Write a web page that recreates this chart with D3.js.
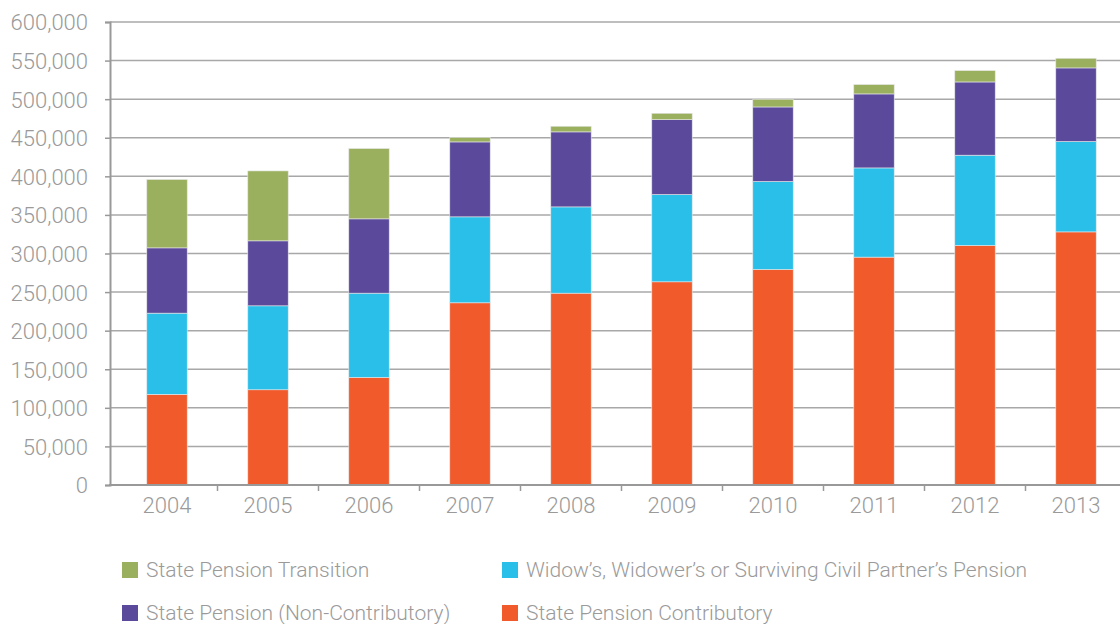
<!DOCTYPE html>
<html lang="en">
<head>
<meta charset="UTF-8">
<script src="https://d3js.org/d3.v7.min.js"></script>
<title>Pensions</title>
<style>
  body { margin: 0; background: #fff; }
  text { font-family: Roboto, "Liberation Sans", sans-serif; font-weight: 300; fill: #9a9a9a; }
</style>
</head>
<body>
<svg width="1120" height="624" id="chart"></svg>
<script>
// years on the x axis
const years = ["2004","2005","2006","2007","2008","2009","2010","2011","2012","2013"];

// series values
const contributory    = [117500, 123400, 139400, 236100, 248600, 263300, 279300, 295300, 310400, 328000];
const widows          = [105200, 108800, 109200, 111400, 111800, 113100, 114000, 115600, 117000, 117100];
const nonContributory = [ 84600,  84200,  96300,  97100,  97200,  97100,  96600,  95900,  94900,  95400];
const transition      = [ 88600,  90600,  91100,   5700,   7300,   8200,  10000,  12100,  14700,  12500];

const yTicks = [0, 50000, 100000, 150000, 200000, 250000, 300000, 350000, 400000, 450000, 500000, 550000, 600000];

const seriesNames = ["State Pension Contributory", "Widow\u2019s, Widower\u2019s or Surviving Civil Partner\u2019s Pension", "State Pension (Non-Contributory)", "State Pension Transition"];
const seriesKeys = ["contributory", "widows", "nonContributory", "transition"];
const colors = {contributory: "#f15a2b", widows: "#29bfe9", nonContributory: "#5b4a9c", transition: "#9bb05e"};

let rows = years.map((y, i) => ({
    year: y,
    contributory: contributory[i],
    widows: widows[i],
    nonContributory: nonContributory[i],
    transition: transition[i]
}));

let svg = d3.select("#chart");

let x = d3.scaleBand().domain(years).range([116.5, 1126.5]).paddingInner(0.6).paddingOuter(0.3);
let y = d3.scaleLinear().domain([0, 600000]).range([485, 22]);

// gridlines
svg.append("g")
    .selectAll("line")
    .data(yTicks.slice(1))
    .join("line")
    .attr("x1", 110).attr("x2", 1120)
    .attr("y1", d => y(d)).attr("y2", d => y(d))
    .attr("stroke", "#a8a8a8")
    .attr("stroke-width", 1.5);

// stacked bars
let stack = d3.stack().keys(seriesKeys)(rows);
svg.append("g")
    .selectAll("g")
    .data(stack)
    .join("g")
    .attr("fill", d => colors[d.key])
    .selectAll("rect")
    .data(d => d)
    .join("rect")
    .attr("x", d => x(d.data.year))
    .attr("width", x.bandwidth())
    .attr("y", d => y(d[1]))
    .attr("height", d => y(d[0]) - y(d[1]))
    .attr("stroke", "#e6e6e6")
    .attr("stroke-width", 0.6);

// y axis
let yAxis = svg.append("g")
    .attr("transform", "translate(110,0)")
    .call(d3.axisLeft(y).tickValues(yTicks).tickSize(5).tickPadding(17).tickFormat(d3.format(",")));
yAxis.select(".domain").attr("stroke", "#999").attr("stroke-width", 2);
yAxis.selectAll(".tick line").attr("stroke", "#999").attr("stroke-width", 1.5);
yAxis.selectAll(".tick text").attr("fill", "#9a9a9a").style("font-size", "22px").attr("dy", "0.36em");

// x axis
let xAxis = svg.append("g")
    .attr("transform", "translate(0,485)")
    .call(d3.axisBottom(x).tickSize(0).tickPadding(12));
xAxis.select(".domain").remove();
xAxis.selectAll(".tick text").attr("fill", "#9a9a9a").style("font-size", "22px");
svg.append("line")
    .attr("x1", 109).attr("x2", 1120)
    .attr("y1", 485).attr("y2", 485)
    .attr("stroke", "#999").attr("stroke-width", 2);
// small ticks between categories
svg.append("g")
    .selectAll("line")
    .data(years.slice(1))
    .join("line")
    .attr("x1", d => x(d) - x.step() * x.paddingInner() / 2)
    .attr("x2", d => x(d) - x.step() * x.paddingInner() / 2)
    .attr("y1", 485).attr("y2", 491)
    .attr("stroke", "#999").attr("stroke-width", 1.5);

// legend
const legendOrder = [
    {key: "transition", name: seriesNames[3], lx: 122, ly: 562},
    {key: "widows", name: seriesNames[1], lx: 502, ly: 562},
    {key: "nonContributory", name: seriesNames[2], lx: 122, ly: 605},
    {key: "contributory", name: seriesNames[0], lx: 502, ly: 605}
];
let legend = svg.append("g");
legend.selectAll("rect")
    .data(legendOrder)
    .join("rect")
    .attr("x", d => d.lx).attr("y", d => d.ly)
    .attr("width", 16).attr("height", 16)
    .attr("fill", d => colors[d.key]);
legend.selectAll("text")
    .data(legendOrder)
    .join("text")
    .attr("x", d => d.lx + 24).attr("y", d => d.ly + 15)
    .style("font-size", "21px")
    .text(d => d.name);
</script>
</body>
</html>
